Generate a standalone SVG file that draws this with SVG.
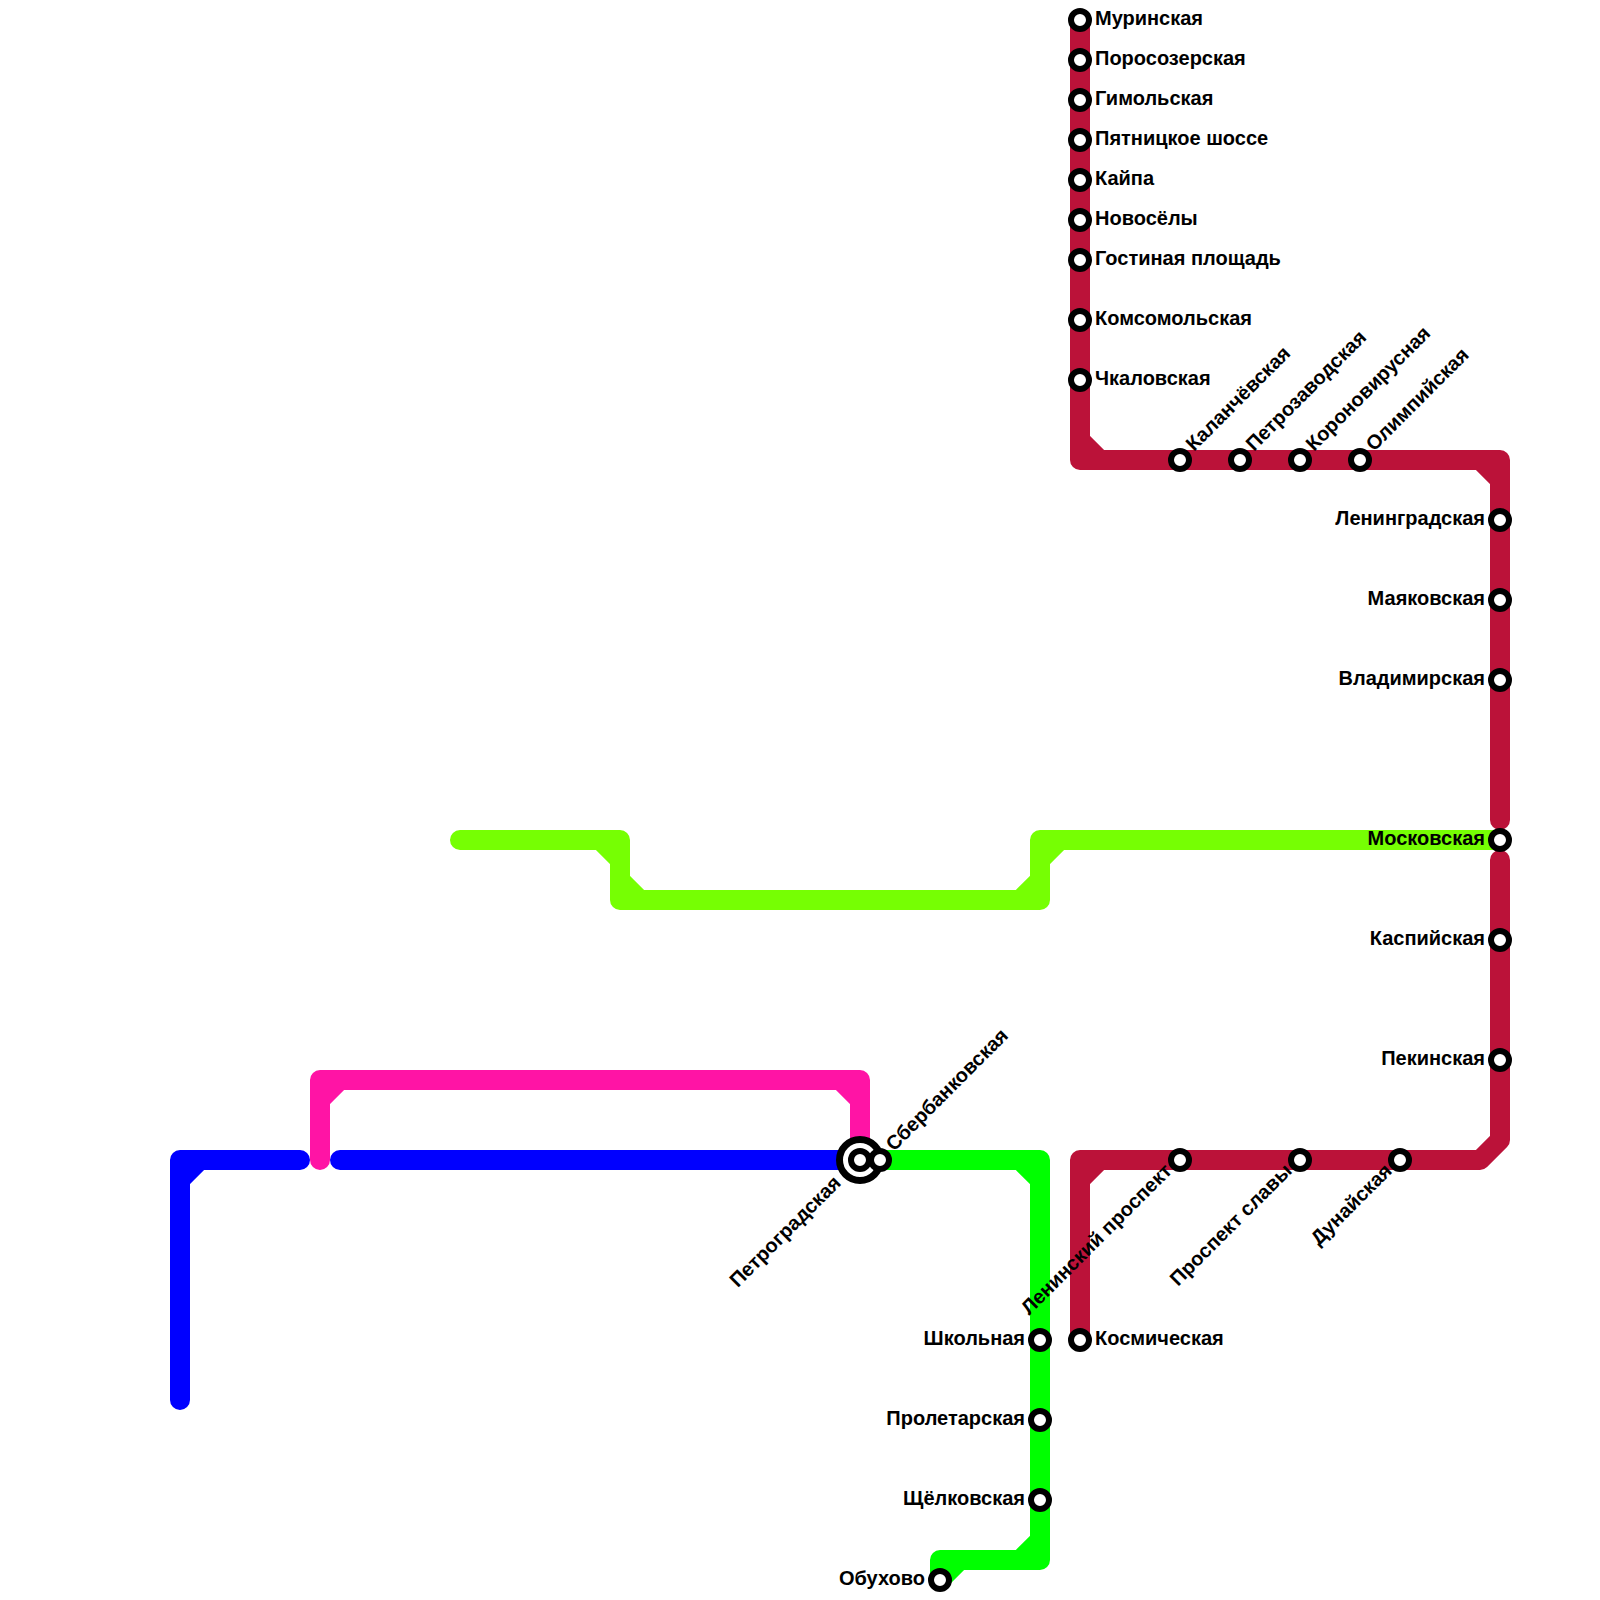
<svg xmlns="http://www.w3.org/2000/svg" width="1600" height="1600" viewBox="0 0 1600 1600">
<style>
.l{fill:none;stroke-width:20;stroke-linecap:round;stroke-linejoin:round}
.s{fill:#fff;stroke:#000;stroke-width:6}
.b{stroke-width:7}
text{font-family:"Liberation Sans",Arial,sans-serif;font-weight:bold;font-size:20px;fill:#000}
.e{text-anchor:end}
</style>
<rect width="1600" height="1600" fill="#fff"/>
<g id="connectors">
<path class="l" stroke="#76FF03" d="M460 840H620V900H1040V840H1500M600 840L620 860M620 880L640 900M1020 900L1040 880M1040 860L1060 840"/>
<path class="l" stroke="#0000FF" d="M180 1400V1160H300M180 1180L200 1160M340 1160H860"/>
<path class="l" stroke="#FF14A5" d="M320 1160V1080H860V1160M320 1100L340 1080M840 1080L860 1100"/>
<path class="l" stroke="#00FF00" d="M880 1160H1040V1560H940V1580M1020 1160L1040 1180M1040 1540L1020 1560M960 1560L940 1580"/>
<path class="l" stroke="#BB1239" d="M1080 20V460H1500V820M1080 440L1100 460M1480 460L1500 480M1500 860V1140L1480 1160H1080V1340M1080 1180L1100 1160"/>
</g>
<g id="st-muro"><circle class="s" cx="1080" cy="20" r="9"/><text x="1095" y="25">Муринская</text></g>
<g id="st-poro"><circle class="s" cx="1080" cy="60" r="9"/><text x="1095" y="65">Поросозерская</text></g>
<g id="st-gimo"><circle class="s" cx="1080" cy="100" r="9"/><text x="1095" y="105">Гимольская</text></g>
<g id="st-pyat"><circle class="s" cx="1080" cy="140" r="9"/><text x="1095" y="145">Пятницкое шоссе</text></g>
<g id="st-kaip"><circle class="s" cx="1080" cy="180" r="9"/><text x="1095" y="185">Кайпа</text></g>
<g id="st-novo"><circle class="s" cx="1080" cy="220" r="9"/><text x="1095" y="225">Новосёлы</text></g>
<g id="st-gost"><circle class="s" cx="1080" cy="260" r="9"/><text x="1095" y="265">Гостиная площадь</text></g>
<g id="st-koms"><circle class="s" cx="1080" cy="320" r="9"/><text x="1095" y="325">Комсомольская</text></g>
<g id="st-chka"><circle class="s" cx="1080" cy="380" r="9"/><text x="1095" y="385">Чкаловская</text></g>
<g id="st-kala"><circle class="s" cx="1180" cy="460" r="9"/><text transform="translate(1194 452) rotate(-45)">Каланчёвская</text></g>
<g id="st-petz"><circle class="s" cx="1240" cy="460" r="9"/><text transform="translate(1254 452) rotate(-45)">Петрозаводская</text></g>
<g id="st-koro"><circle class="s" cx="1300" cy="460" r="9"/><text transform="translate(1314 452) rotate(-45)">Короновирусная</text></g>
<g id="st-olim"><circle class="s" cx="1360" cy="460" r="9"/><text transform="translate(1374 452) rotate(-45)">Олимпийская</text></g>
<g id="st-leng"><circle class="s" cx="1500" cy="520" r="9"/><text class="e" x="1485" y="525">Ленинградская</text></g>
<g id="st-maya"><circle class="s" cx="1500" cy="600" r="9"/><text class="e" x="1485" y="605">Маяковская</text></g>
<g id="st-vlad"><circle class="s" cx="1500" cy="680" r="9"/><text class="e" x="1485" y="685">Владимирская</text></g>
<g id="st-mosk"><circle class="s" cx="1500" cy="840" r="9"/><text class="e" x="1485" y="845">Московская</text></g>
<g id="st-kasp"><circle class="s" cx="1500" cy="940" r="9"/><text class="e" x="1485" y="945">Каспийская</text></g>
<g id="st-peki"><circle class="s" cx="1500" cy="1060" r="9"/><text class="e" x="1485" y="1065">Пекинская</text></g>
<g id="st-duna"><circle class="s" cx="1400" cy="1160" r="9"/><text class="e" transform="translate(1393 1172) rotate(-45)">Дунайская</text></g>
<g id="st-slav"><circle class="s" cx="1300" cy="1160" r="9"/><text class="e" transform="translate(1293 1172) rotate(-45)">Проспект славы</text></g>
<g id="st-leni"><circle class="s" cx="1180" cy="1160" r="9"/><text class="e" transform="translate(1173 1172) rotate(-45)">Ленинский проспект</text></g>
<g id="st-kosm"><circle class="s" cx="1080" cy="1340" r="9"/><text x="1095" y="1345">Космическая</text></g>
<g id="st-petg"><circle class="s b" cx="860" cy="1160" r="20.5"/><circle class="s" cx="860" cy="1160" r="9"/><text class="e" transform="translate(842 1184) rotate(-45)">Петроградская</text></g>
<g id="st-sber"><circle class="s" cx="880" cy="1160" r="9"/><text transform="translate(894 1152) rotate(-45)">Сбербанковская</text></g>
<g id="st-shko"><circle class="s" cx="1040" cy="1340" r="9"/><text class="e" x="1025" y="1345">Школьная</text></g>
<g id="st-prol"><circle class="s" cx="1040" cy="1420" r="9"/><text class="e" x="1025" y="1425">Пролетарская</text></g>
<g id="st-shch"><circle class="s" cx="1040" cy="1500" r="9"/><text class="e" x="1025" y="1505">Щёлковская</text></g>
<g id="st-obuh"><circle class="s" cx="940" cy="1580" r="9"/><text class="e" x="925" y="1585">Обухово</text></g>
</svg>
